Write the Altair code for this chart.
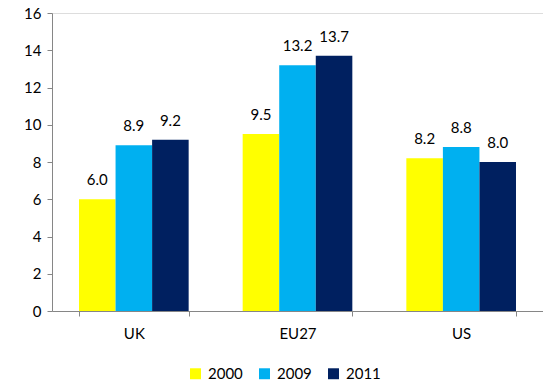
import altair as alt
import pandas as pd

regions = ["UK", "EU27", "US"]
years = ["2000", "2009", "2011"]
v2000 = [6.0, 9.5, 8.2]
v2009 = [8.9, 13.2, 8.8]
v2011 = [9.2, 13.7, 8.0]
colors = ["#FFFF00", "#00B0F0", "#002060"]

rows = []
for i, r in enumerate(regions):
    for y, vals in zip(years, [v2000, v2009, v2011]):
        rows.append({"region": r, "year": y, "value": vals[i], "label": f"{vals[i]:.1f}"})
df = pd.DataFrame(rows)

FONT = "Lato"
x = alt.X("region:N", sort=regions, title=None,
          scale=alt.Scale(paddingInner=0.33, paddingOuter=0.165),
          axis=alt.Axis(labelAngle=0, labelFontSize=15, labelFont=FONT, labelColor="#000000",
                        domainColor="#868686", tickColor="#868686", tickBand="extent",
                        tickSize=5, labelPadding=10, domainWidth=1))
y = alt.Y("value:Q", title=None,
          scale=alt.Scale(domain=[0, 16]),
          axis=alt.Axis(values=list(range(0, 17, 2)), labelFontSize=15, labelFont=FONT,
                        labelColor="#000000", domainColor="#868686", tickColor="#868686",
                        tickSize=5, grid=False, labelPadding=6))
xo = alt.XOffset("year:N", sort=years)

bars = alt.Chart(df).mark_bar(stroke=None).encode(
    x=x, y=y, xOffset=xo,
    color=alt.Color("year:N", sort=years,
                    scale=alt.Scale(domain=years, range=colors),
                    legend=alt.Legend(title=None, orient="none", direction="horizontal",
                                      legendX=136, legendY=353, symbolType="square",
                                      symbolSize=120, symbolStrokeWidth=0,
                                      labelFontSize=15, labelFont=FONT, labelColor="#000000",
                                      columnPadding=14, labelOffset=5)),
)
labels = alt.Chart(df).mark_text(baseline="bottom", dy=-11, fontSize=15, font=FONT,
                                 color="#000000").encode(
    x=x, y=y, xOffset=xo, text="label:N")

chart = (bars + labels).properties(
    width=491, height=298,
    autosize=alt.AutoSizeParams(type="none"),
    padding={"left": 52, "top": 13, "right": 0, "bottom": 76},
).configure_view(stroke=None).configure(background="white")

chart.save("out.html", embed_options={"renderer": "svg", "actions": False})
